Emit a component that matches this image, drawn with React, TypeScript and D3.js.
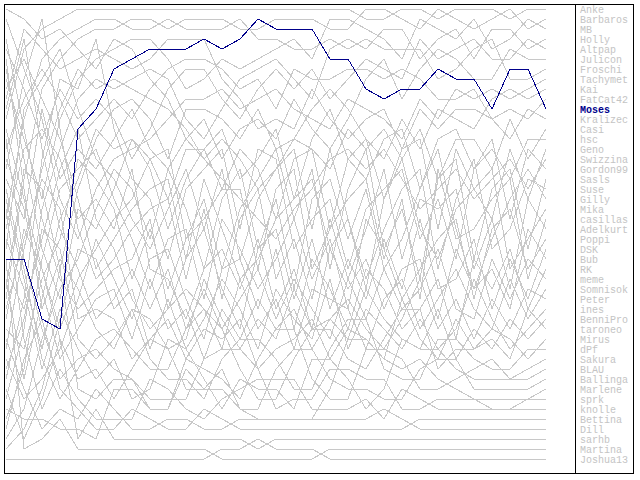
import { useMemo } from "react";
import * as d3 from "d3";

const WIDTH = 640;
const HEIGHT = 480;

// matchdays shown on the x axis (no tick labels in the chart)
const matchdays = [
    1, 2, 3, 4, 5, 6, 7, 8, 9, 10, 11, 12, 13, 14, 15, 16,
    17, 18, 19, 20, 21, 22, 23, 24, 25, 26, 27, 28, 29, 30, 31,
];

// players in final table order
const players = [
    "Anke", "Barbaros", "MB", "Holly", "Altpap", "Julicon", "Froschi", "Tachymet",
    "Kai", "FatCat42", "Moses", "Kralizec", "Casi", "hsc", "Geno", "Swizzina",
    "Gordon99", "Sasls", "Suse", "Gilly", "Mika", "casillas", "Adelkurt", "Poppi",
    "DSK", "Bub", "RK", "meme", "Somnisok", "Peter", "ines", "BenniPro",
    "taroneo", "Mirus", "dPf", "Sakura", "BLAU", "Ballinga", "Marlene", "sprk",
    "knolle", "Bettina", "Dill", "sarhb", "Martina", "Joshua13",
];

const highlight = "Moses";

// table position of each player after every matchday (same order as players)
const ranks: number[][] = [
    [12, 5, 3, 2, 1, 1, 1, 1, 1, 1, 1, 1, 1, 1, 1, 1, 1, 1, 1, 1, 2, 2, 1, 1, 2, 1, 1, 1, 2, 1, 1],
    [30, 18, 9, 6, 4, 3, 3, 2, 2, 3, 2, 2, 2, 3, 3, 2, 2, 2, 3, 3, 1, 1, 2, 3, 1, 2, 3, 2, 1, 3, 2],
    [8, 14, 20, 12, 8, 6, 5, 4, 4, 6, 9, 8, 6, 7, 6, 5, 4, 6, 2, 2, 3, 4, 6, 2, 3, 4, 2, 5, 4, 2, 3],
    [40, 33, 21, 15, 10, 8, 9, 8, 7, 8, 12, 14, 11, 8, 7, 6, 8, 10, 5, 4, 5, 3, 3, 6, 4, 3, 6, 3, 3, 5, 4],
    [5, 9, 14, 9, 12, 10, 12, 16, 13, 9, 7, 7, 10, 12, 9, 7, 9, 7, 10, 8, 6, 7, 8, 4, 6, 5, 4, 6, 6, 4, 5],
    [18, 22, 11, 18, 15, 17, 14, 11, 15, 17, 14, 12, 16, 13, 12, 14, 10, 13, 15, 12, 8, 6, 10, 7, 5, 6, 8, 8, 5, 6, 6],
    [22, 12, 6, 4, 3, 2, 2, 3, 3, 2, 3, 3, 3, 2, 4, 4, 5, 5, 4, 5, 4, 5, 5, 5, 8, 7, 5, 4, 8, 8, 7],
    [2, 7, 12, 20, 24, 19, 16, 15, 14, 12, 10, 10, 9, 11, 10, 9, 11, 12, 13, 10, 11, 12, 14, 10, 12, 9, 10, 9, 10, 9, 8],
    [35, 25, 17, 11, 7, 9, 8, 9, 10, 11, 13, 16, 14, 16, 19, 17, 14, 11, 9, 11, 14, 16, 12, 15, 11, 12, 13, 10, 9, 10, 9],
    [15, 10, 7, 10, 14, 12, 10, 12, 9, 7, 6, 6, 7, 9, 8, 11, 7, 8, 8, 7, 7, 8, 7, 8, 10, 10, 9, 12, 11, 12, 10],
    [26, 26, 32, 33, 13, 11, 7, 6, 5, 5, 5, 4, 5, 4, 2, 3, 3, 3, 6, 6, 9, 10, 9, 9, 7, 8, 8, 11, 7, 7, 11],
    [10, 3, 5, 7, 6, 5, 6, 7, 6, 4, 4, 4, 8, 10, 13, 12, 13, 9, 12, 14, 12, 11, 15, 11, 13, 11, 11, 12, 14, 11, 12],
    [20, 28, 35, 27, 19, 14, 11, 10, 12, 16, 11, 11, 12, 14, 11, 15, 14, 15, 17, 13, 15, 13, 16, 13, 18, 14, 14, 17, 12, 16, 13],
    [7, 16, 25, 30, 21, 23, 19, 14, 16, 20, 15, 15, 13, 18, 16, 13, 20, 14, 11, 16, 18, 14, 13, 19, 14, 13, 17, 15, 18, 14, 14],
    [28, 38, 30, 22, 18, 13, 15, 14, 17, 23, 18, 15, 19, 15, 17, 22, 16, 15, 23, 16, 14, 20, 15, 14, 23, 15, 19, 22, 15, 20, 15],
    [1, 2, 4, 3, 5, 7, 4, 5, 8, 10, 14, 16, 18, 20, 22, 24, 21, 19, 16, 15, 17, 15, 18, 21, 19, 17, 20, 18, 16, 19, 16],
    [38, 30, 16, 8, 9, 4, 13, 18, 20, 26, 19, 17, 15, 23, 15, 16, 25, 22, 20, 27, 21, 19, 17, 24, 20, 26, 17, 14, 22, 15, 17],
    [13, 20, 27, 33, 28, 25, 22, 20, 16, 15, 24, 20, 27, 21, 18, 15, 22, 17, 27, 19, 15, 25, 21, 28, 18, 16, 26, 19, 17, 25, 18],
    [25, 11, 8, 5, 11, 16, 18, 22, 25, 21, 17, 23, 17, 26, 20, 17, 15, 23, 15, 22, 28, 23, 19, 17, 27, 20, 16, 25, 23, 18, 19],
    [44, 41, 34, 29, 26, 21, 17, 19, 24, 17, 21, 27, 20, 17, 25, 20, 29, 20, 18, 24, 19, 27, 24, 19, 15, 23, 29, 24, 20, 17, 20],
    [9, 6, 10, 14, 20, 27, 24, 21, 19, 18, 26, 18, 23, 28, 26, 22, 20, 18, 25, 22, 29, 20, 16, 23, 26, 21, 19, 17, 27, 24, 21],
    [33, 35, 28, 24, 16, 18, 21, 28, 23, 29, 24, 22, 19, 19, 27, 19, 17, 27, 23, 20, 18, 26, 20, 30, 17, 24, 23, 20, 18, 28, 22],
    [17, 8, 2, 13, 23, 28, 26, 23, 21, 20, 28, 21, 30, 22, 19, 28, 24, 30, 22, 28, 23, 17, 26, 20, 21, 19, 27, 22, 29, 20, 23],
    [42, 37, 26, 19, 17, 15, 20, 24, 29, 24, 23, 30, 22, 25, 29, 26, 22, 28, 24, 31, 22, 25, 30, 27, 24, 22, 30, 23, 21, 27, 24],
    [4, 13, 22, 28, 31, 29, 27, 26, 22, 31, 26, 23, 29, 33, 25, 23, 30, 24, 31, 26, 30, 24, 29, 22, 29, 28, 24, 31, 26, 30, 25],
    [23, 15, 13, 16, 22, 20, 23, 17, 27, 28, 32, 27, 25, 29, 24, 31, 27, 33, 25, 29, 26, 31, 27, 26, 32, 25, 29, 27, 31, 23, 26],
    [36, 40, 38, 35, 30, 24, 28, 32, 26, 25, 30, 34, 27, 26, 31, 25, 33, 26, 29, 33, 27, 29, 33, 31, 28, 34, 26, 29, 25, 31, 27],
    [11, 4, 15, 23, 27, 32, 30, 27, 31, 27, 33, 29, 33, 30, 27, 32, 28, 31, 34, 28, 32, 27, 31, 29, 25, 31, 32, 26, 30, 26, 28],
    [27, 31, 24, 17, 13, 22, 25, 30, 33, 31, 29, 31, 35, 28, 33, 30, 35, 29, 30, 31, 35, 30, 28, 33, 30, 27, 31, 33, 28, 32, 29],
    [16, 21, 29, 36, 33, 30, 29, 34, 28, 33, 31, 36, 31, 34, 30, 33, 31, 35, 32, 30, 33, 35, 32, 28, 33, 30, 34, 30, 33, 29, 30],
    [45, 43, 39, 32, 25, 26, 31, 29, 35, 30, 35, 32, 28, 31, 35, 29, 32, 34, 28, 35, 31, 33, 35, 32, 35, 33, 28, 32, 35, 33, 31],
    [6, 19, 31, 26, 29, 33, 35, 31, 32, 35, 34, 28, 32, 35, 32, 34, 29, 33, 32, 34, 29, 32, 34, 35, 31, 36, 33, 35, 32, 34, 32],
    [31, 24, 18, 21, 32, 31, 32, 36, 34, 32, 36, 33, 34, 32, 37, 35, 34, 32, 36, 33, 34, 36, 30, 34, 36, 32, 35, 34, 36, 31, 33],
    [19, 27, 36, 40, 37, 34, 33, 35, 37, 37, 33, 31, 33, 37, 40, 40, 36, 33, 33, 36, 37, 34, 31, 31, 37, 35, 35, 33, 34, 36, 34],
    [37, 32, 23, 25, 34, 36, 34, 31, 36, 38, 38, 40, 36, 34, 34, 36, 39, 39, 35, 32, 32, 37, 38, 38, 34, 34, 36, 37, 37, 35, 35],
    [14, 26, 33, 38, 36, 35, 37, 38, 41, 41, 36, 37, 38, 40, 36, 33, 33, 38, 40, 40, 35, 35, 36, 39, 39, 38, 37, 36, 38, 37, 36],
    [24, 29, 37, 31, 35, 38, 36, 40, 39, 34, 35, 38, 41, 38, 39, 39, 41, 36, 36, 38, 41, 39, 34, 35, 35, 37, 38, 38, 38, 38, 37],
    [39, 44, 40, 34, 38, 37, 40, 37, 34, 35, 39, 39, 39, 41, 41, 37, 35, 35, 38, 39, 39, 40, 40, 37, 36, 36, 39, 39, 39, 39, 38],
    [29, 17, 19, 27, 39, 40, 38, 38, 40, 40, 40, 36, 35, 35, 37, 41, 40, 40, 37, 37, 38, 38, 41, 41, 40, 40, 40, 40, 40, 40, 39],
    [21, 34, 41, 37, 40, 42, 42, 42, 38, 39, 41, 42, 40, 39, 38, 38, 38, 41, 41, 41, 40, 42, 39, 40, 41, 41, 41, 41, 41, 40, 40],
    [34, 39, 43, 41, 42, 39, 41, 43, 43, 42, 42, 43, 43, 42, 42, 42, 42, 42, 39, 34, 34, 36, 37, 36, 38, 39, 40, 41, 41, 41, 41],
    [43, 36, 32, 39, 41, 43, 43, 41, 42, 43, 43, 41, 42, 43, 43, 43, 43, 43, 43, 43, 43, 43, 43, 42, 42, 42, 42, 42, 42, 42, 42],
    [41, 42, 42, 43, 43, 44, 39, 39, 41, 41, 37, 39, 37, 41, 42, 42, 42, 42, 42, 42, 42, 41, 42, 43, 43, 43, 43, 43, 43, 43, 43],
    [32, 23, 27, 34, 44, 41, 44, 44, 44, 44, 44, 44, 44, 44, 45, 44, 44, 44, 44, 44, 44, 44, 44, 44, 44, 44, 44, 44, 44, 44, 44],
    [26, 45, 44, 42, 45, 45, 45, 45, 45, 45, 45, 45, 46, 46, 46, 46, 46, 46, 45, 45, 45, 45, 45, 45, 45, 45, 45, 45, 45, 45, 45],
    [46, 46, 46, 46, 46, 46, 46, 46, 46, 46, 46, 46, 45, 45, 44, 45, 45, 45, 46, 46, 46, 46, 46, 46, 46, 46, 46, 46, 46, 46, 46],
];

const PLOT = { left: 5, top: 5, right: 575, bottom: 474 };
const FRAME_RIGHT = 634;

export default function App() {
    // x = matchday, y = table position (1 on top)
    const xScale = useMemo(
        () => d3.scaleLinear().domain([1, matchdays.length]).range([6, 546]),
        []
    );
    const yScale = useMemo(
        () => d3.scaleLinear().domain([1, players.length]).range([9, 459]),
        []
    );

    const lineBuilder = d3
        .line<number>()
        .x((_, i) => xScale(matchdays[i]))
        .y((d) => yScale(d));

    const lines = players.map((p, i) => ({ name: p, path: lineBuilder(ranks[i]) }));
    const main = lines.find((d) => d.name === highlight);

    return (
        <svg
            width={WIDTH}
            height={HEIGHT}
            style={{ position: "absolute", left: 0, top: 0, background: "#ffffff" }}
        >
            <rect x={0} y={0} width={WIDTH} height={HEIGHT} fill="#ffffff" />
            <g shapeRendering="crispEdges">
                {lines
                    .filter((d) => d.name !== highlight)
                    .map((d) => (
                        <path key={d.name} d={d.path ?? ""} fill="none" stroke="#c8c8c8" strokeWidth={1} />
                    ))}
                {main && <path d={main.path ?? ""} fill="none" stroke="#00008b" strokeWidth={1} />}
            </g>

            {/* frame */}
            <g shapeRendering="crispEdges" stroke="#000000" fill="none">
                <rect
                    x={PLOT.left - 0.5}
                    y={PLOT.top - 0.5}
                    width={FRAME_RIGHT - PLOT.left}
                    height={PLOT.bottom - PLOT.top}
                />
                <line x1={PLOT.right + 0.5} x2={PLOT.right + 0.5} y1={PLOT.top - 0.5} y2={PLOT.bottom - 0.5} />
            </g>

            {/* legend in final order */}
            <g fontFamily='"Liberation Mono", monospace' fontSize={10}>
                {players.map((p, i) => (
                    <text
                        key={p}
                        x={580}
                        y={yScale(i + 1) + 4}
                        fill={p === highlight ? "#00008b" : "#c4c4c4"}
                        fontWeight={p === highlight ? "bold" : "normal"}
                    >
                        {p}
                    </text>
                ))}
            </g>
        </svg>
    );
}
